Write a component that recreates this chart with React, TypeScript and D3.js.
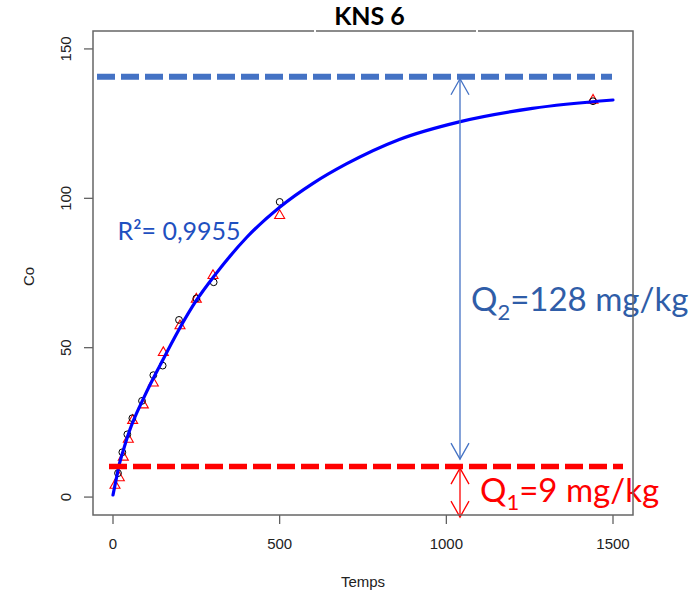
import React from 'react';
import * as d3 from 'd3';

// ---- data ----
const xTicks = [0, 500, 1000, 1500];
const yTicks = [0, 50, 100, 150];

// fitted curve
const fitTimes = [0, 10, 19, 30, 49, 94, 143, 196, 250, 305, 400, 500, 600, 700, 859, 1039, 1258, 1500];
const fitValues = [0.7, 6.2, 11, 15.3, 22, 33.6, 44.5, 55.7, 65.8, 74.2, 86.8, 97, 105, 111.5, 119.7, 125.6, 130.1, 132.9];

// replicate 1 (red triangles)
const triTimes = [6, 19, 31, 46, 59, 91, 121, 151, 201, 250, 300, 500, 1440];
const triValues = [4, 6.5, 13.4, 19.4, 25.7, 30.9, 38.2, 48.4, 57.4, 66.3, 74.2, 94.3, 132.9];

// replicate 2 (black circles)
const circTimes = [15, 28, 43, 58, 87, 121, 149, 198, 250, 302, 500, 1440];
const circValues = [8, 15, 21, 26.4, 32.2, 40.8, 44, 59.3, 66.5, 71.9, 98.8, 132.5];

// annotation levels
const upperLevel = [140.7];
const upperSpan = [-48, 1497];
const lowerLevel = [10.2];
const lowerSpan = [-12, 1530];
const arrowTime = [1041];
const blueArrow = [140.0, 12.7];
const redArrow = [9.7, -6.7];

const title = 'KNS 6';
const xLabel = 'Temps';
const yLabel = 'Co';
const r2Label = 'R²= 0,9955';

export default function App() {
  const W = 699, H = 591;
  const left = 93, right = 633, top = 31, bottom = 515;
  const x = d3.scaleLinear().domain([-60, 1560]).range([left, right]);
  const y = d3.scaleLinear().domain([-6, 156]).range([bottom, top]);

  const line = d3.line<number>()
    .x((_, i) => x(fitTimes[i]))
    .y((d) => y(d))
    .curve(d3.curveMonotoneX);

  const tri = (cx: number, cy: number) =>
    `M${cx},${cy - 5.6}L${cx - 5},${cy + 3.1}L${cx + 5},${cy + 3.1}Z`;

  const ax = x(arrowTime[0]);
  const head = (tx: number, ty: number, dir: number) =>
    `M${tx - 9},${ty + dir * 16}L${tx},${ty}L${tx + 9},${ty + dir * 16}`;

  const axisFont = "'Liberation Sans', Arial, sans-serif";
  const annFont = "Lato, 'Open Sans', sans-serif";

  return (
    <div style={{ position: 'absolute', left: 0, top: 0 }}>
      <svg width={W} height={H} style={{ display: 'block', background: '#fff' }}>
        {/* title */}
        <text x={369.5} y={25} textAnchor="middle" fontFamily={annFont} fontWeight={700} fontSize={25} fill="#000">
          {title}
        </text>

        {/* y axis ticks */}
        {yTicks.map((t) => (
          <g key={'y' + t}>
            <line x1={left - 9} x2={left} y1={y(t)} y2={y(t)} stroke="#555" strokeWidth={1.2} />
            <text
              transform={`translate(${70.5},${y(t)}) rotate(-90)`}
              textAnchor="middle"
              fontFamily={axisFont}
              fontSize={15}
              fill="#222"
            >
              {t}
            </text>
          </g>
        ))}
        {/* x axis ticks */}
        {xTicks.map((t) => (
          <g key={'x' + t}>
            <line x1={x(t)} x2={x(t)} y1={bottom} y2={bottom + 9} stroke="#555" strokeWidth={1.2} />
            <text x={x(t)} y={549} textAnchor="middle" fontFamily={axisFont} fontSize={15} fill="#222">
              {t}
            </text>
          </g>
        ))}
        <text x={363} y={587} textAnchor="middle" fontFamily={axisFont} fontSize={15} fill="#222">
          {xLabel}
        </text>
        <text transform={`translate(33.5,276.5) rotate(-90)`} textAnchor="middle" fontFamily={axisFont} fontSize={15} fill="#222">
          {yLabel}
        </text>

        {/* points */}
        {triTimes.map((t, i) => (
          <path key={'t' + i} d={tri(x(t), y(triValues[i]))} fill="none" stroke="#ff0000" strokeWidth={1.1} />
        ))}
        {circTimes.map((t, i) => (
          <circle key={'c' + i} cx={x(t)} cy={y(circValues[i])} r={3.4} fill="none" stroke="#000" strokeWidth={1} />
        ))}

        {/* fitted curve */}
        <path d={line(fitValues) || ''} fill="none" stroke="#0000ff" strokeWidth={3.2} strokeLinecap="round" />

        {/* R2 label */}
        <text x={117.5} y={240} fontFamily={annFont} fontSize={25} fill="#1f50c0">
          {r2Label}
        </text>

        {/* dashed levels */}
        <line x1={x(upperSpan[0])} x2={x(upperSpan[1])} y1={y(upperLevel[0])} y2={y(upperLevel[0])}
          stroke="#4472c4" strokeWidth={6} strokeDasharray="18 6" />
        <line x1={x(lowerSpan[0])} x2={x(lowerSpan[1])} y1={y(lowerLevel[0])} y2={y(lowerLevel[0])}
          stroke="#ff0000" strokeWidth={5.5} strokeDasharray="18 6" />

        {/* arrows */}
        <line x1={ax} x2={ax} y1={y(blueArrow[0])} y2={y(blueArrow[1])} stroke="#4472c4" strokeWidth={1.3} />
        <path d={head(ax, y(blueArrow[0]), 1)} fill="none" stroke="#4472c4" strokeWidth={1.3} />
        <path d={head(ax, y(blueArrow[1]), -1)} fill="none" stroke="#4472c4" strokeWidth={1.3} />
        <line x1={ax} x2={ax} y1={y(redArrow[0])} y2={y(redArrow[1])} stroke="#ff0000" strokeWidth={1.3} />
        <path d={head(ax, y(redArrow[0]), 1)} fill="none" stroke="#ff0000" strokeWidth={1.3} />
        <path d={head(ax, y(redArrow[1]), -1)} fill="none" stroke="#ff0000" strokeWidth={1.3} />

        {/* Q labels */}
        <text x={471} y={311} fontFamily={annFont} fontSize={33} fill="#2f5da8">
          Q<tspan fontSize={22} dy={9}>2</tspan><tspan dy={-9}>=128 mg/kg</tspan>
        </text>
        <text x={480} y={502} fontFamily={annFont} fontSize={33} fill="#ff0000">
          Q<tspan fontSize={22} dy={8}>1</tspan><tspan dy={-8}>=9 mg/kg</tspan>
        </text>

        {/* plot box */}
        <rect x={left} y={top} width={right - left} height={bottom - top} fill="none" stroke="#666" strokeWidth={1.5} />
        <rect x={314} y={29} width={2} height={4} fill="#fff" />
        <rect x={476} y={29} width={2} height={4} fill="#fff" />
      </svg>
    </div>
  );
}
